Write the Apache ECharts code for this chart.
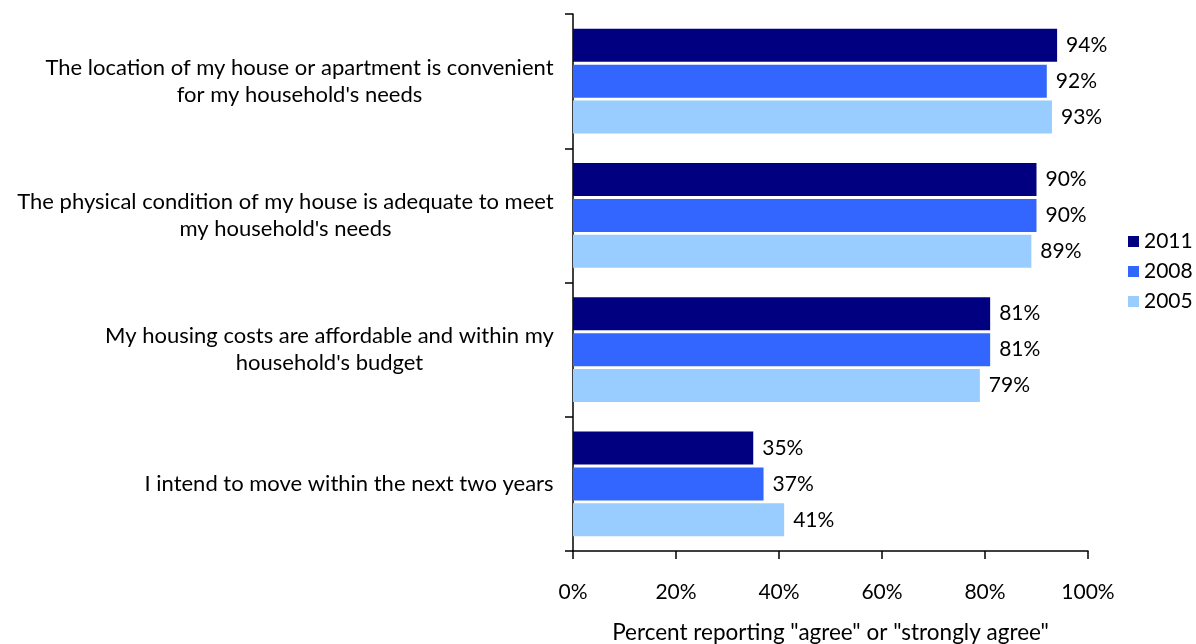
<!DOCTYPE html>
<html>
<head>
<meta charset="utf-8">
<script src="https://cdn.jsdelivr.net/npm/echarts@6/dist/echarts.min.js"></script>
<style>
  html, body { margin: 0; padding: 0; background: #fff; }
  #chart { width: 1196px; height: 644px; }
</style>
</head>
<body>
<div id="chart"></div>
<script>
// Survey statements (top to bottom), one entry per line of the label
const categories = [
  "The location of my house or apartment is convenient\nfor my household's needs",
  "The physical condition of my house is adequate to meet\nmy household's needs",
  "My housing costs are affordable and within my\nhousehold's budget",
  "I intend to move within the next two years"
];
// Share agreeing, per survey year
const values2011 = [94, 90, 81, 35];
const values2008 = [92, 90, 81, 37];
const values2005 = [93, 89, 79, 41];
const seriesNames = ['2011', '2008', '2005'];
const seriesColors = ['#000080', '#3366FF', '#99CCFF'];
const tickLabels = ['0%', '20%', '40%', '60%', '80%', '100%'];

const FONT = 'Lato, "Open Sans", sans-serif';
const FS = 21;       // numbers and legend
const FS_CAT = 22;   // category labels
const FS_NAME = 22.5;

// Each category label is a right-aligned block whose lines are centred
// within it: measure the widest line and give every line that width.
const ctx = document.createElement('canvas').getContext('2d');
ctx.font = FS_CAT + 'px ' + FONT;
const rich = {};
categories.forEach((c, i) => {
  const w = Math.max(...c.split('\n').map(l => ctx.measureText(l).width));
  rich['c' + i] = {
    width: Math.ceil(w) + 2, align: 'center',
    fontSize: FS_CAT, lineHeight: 27, color: '#000', fontFamily: FONT
  };
});

const chart = echarts.init(document.getElementById('chart'));
const dataSets = [values2011, values2008, values2005];

chart.setOption({
  animation: false,
  textStyle: { fontFamily: FONT },
  grid: {
    left: 573, right: 108, top: 14, bottom: 93,
    containLabel: false, outerBoundsMode: 'none'
  },
  legend: {
    orient: 'vertical',
    left: 1123,
    top: 226,
    itemWidth: 11,
    itemHeight: 11,
    itemGap: 9,
    icon: 'rect',
    textStyle: { fontSize: FS, color: '#000', fontFamily: FONT },
    data: seriesNames
  },
  xAxis: {
    type: 'value',
    min: 0,
    max: 100,
    interval: 20,
    name: 'Percent reporting "agree" or "strongly agree"',
    nameLocation: 'middle',
    nameGap: 70,
    nameTextStyle: { fontSize: FS_NAME, color: '#000', fontFamily: FONT },
    axisLine: { show: true, lineStyle: { color: '#000', width: 1.5 } },
    axisTick: { show: true, length: 8, lineStyle: { color: '#000', width: 1.5 } },
    axisLabel: {
      fontSize: FS, color: '#000', margin: 31, fontFamily: FONT,
      formatter: v => tickLabels[Math.round(v / 20)]
    },
    splitLine: { show: false }
  },
  yAxis: {
    type: 'category',
    inverse: true,
    data: categories,
    axisLine: { show: true, lineStyle: { color: '#000', width: 1.5 } },
    axisTick: { show: true, length: 8, lineStyle: { color: '#000', width: 1.5 } },
    axisLabel: {
      align: 'right',
      margin: 18,
      formatter: (v, idx) => v.split('\n').map(l => '{c' + idx + '|' + l + '}').join('\n'),
      rich: rich
    }
  },
  series: seriesNames.map((name, i) => ({
    name: name,
    type: 'bar',
    data: dataSets[i],
    barWidth: 33,
    barGap: '9%',
    barCategoryGap: '22%',
    itemStyle: { color: seriesColors[i] },
    label: {
      show: true,
      position: 'right',
      distance: 9,
      fontSize: FS,
      color: '#000',
      fontFamily: FONT,
      formatter: p => p.value + '%'
    }
  }))
});
</script>
</body>
</html>
